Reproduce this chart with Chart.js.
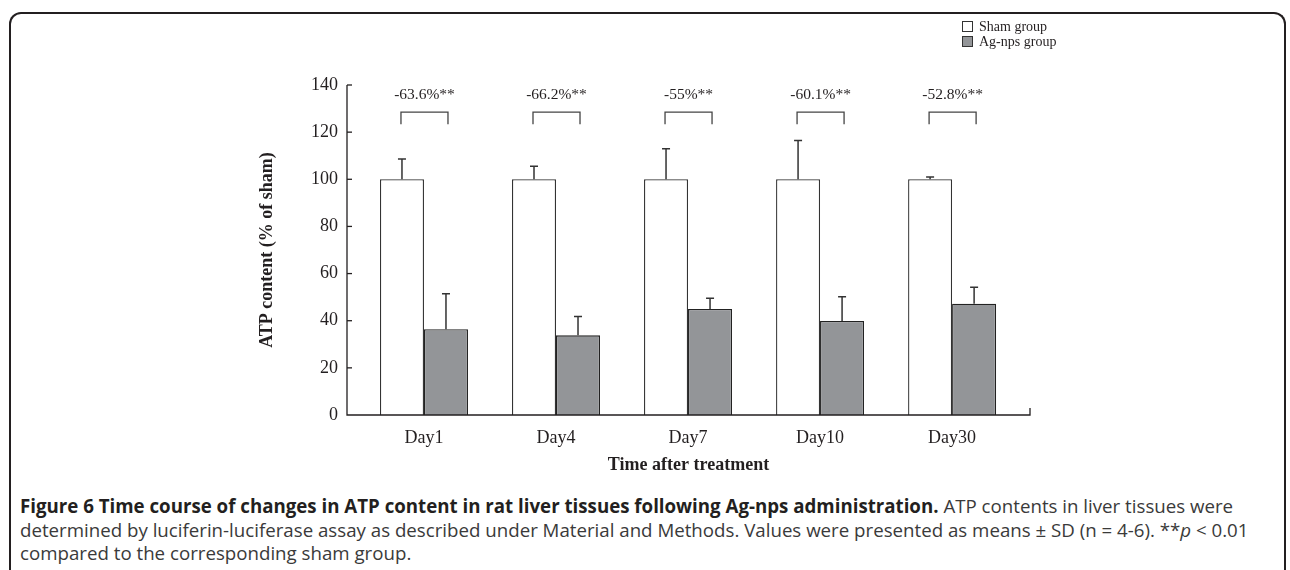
<!DOCTYPE html>
<html>
<head>
<meta charset="utf-8">
<script src="https://cdn.jsdelivr.net/npm/chart.js@4.4.1/dist/chart.umd.min.js"></script>
<style>
  html, body { margin: 0; padding: 0; background: #fff; }
  body { width: 1290px; height: 570px; position: relative; overflow: hidden; }
  #frame {
    position: absolute; left: 9px; top: 12px; width: 1277px; height: 600px;
    border: 2px solid #231f20; border-bottom: none; border-radius: 12px 12px 0 0;
    box-sizing: border-box;
  }
  #chartBox { position: absolute; left: 0; top: 0; width: 1290px; height: 490px; }
  #legend {
    position: absolute; left: 962px; top: 19px;
    font-family: "Liberation Serif", "DejaVu Serif", serif; font-size: 14px; color: #231f20;
    line-height: 15px;
  }
  #legend .row { display: flex; align-items: center; }
  #legend .box { width: 9px; height: 9px; border: 1px solid #333; margin-right: 6px; }
  #caption {
    position: absolute; left: 20px; top: 494px;
    font-family: "Open Sans", "Noto Sans", sans-serif; font-size: 18.7px; line-height: 23.5px;
    color: #3a3a3a; white-space: nowrap;
  }
  #caption b { color: #231f20; }
</style>
</head>
<body>
<div id="frame"></div>
<div id="chartBox"><canvas id="atpChart" width="1290" height="490"></canvas></div>
<div id="legend"></div>
<div id="caption">
  <b>Figure 6 Time course of changes in ATP content in rat liver tissues following Ag-nps administration.</b> ATP contents in liver tissues were<br>
  determined by luciferin-luciferase assay as described under Material and Methods. Values were presented as means ± SD (n = 4-6). **<i>p</i> &lt; 0.01<br>
  compared to the corresponding sham group.
</div>
<script>
// Data
const categories = ['Day1', 'Day4', 'Day7', 'Day10', 'Day30'];
const shamMean = [100, 100, 100, 100, 100];
const shamSD = [8.6, 5.5, 13, 16.5, 1];
const agMean = [36.4, 33.8, 45, 39.9, 47.2];
const agSD = [15, 8, 4.5, 10.3, 7];
const changeLabels = ['-63.6%**', '-66.2%**', '-55%**', '-60.1%**', '-52.8%**'];
const seriesNames = ['Sham group', 'Ag-nps group'];

const yMin = 0;
const yMax = 140;
const yStep = 20;

const INK = '#231f20';
const GREY = '#939598';

// Legend (top right)
const legendEl = document.getElementById('legend');
[['#ffffff', seriesNames[0]], [GREY, seriesNames[1]]].forEach(([fill, name]) => {
  const row = document.createElement('div');
  row.className = 'row';
  row.innerHTML = `<span class="box" style="background:${fill}"></span><span>${name}</span>`;
  legendEl.appendChild(row);
});

// Axes, error bars and significance brackets
const extrasPlugin = {
  id: 'extras',
  afterDatasetsDraw(chart) {
    const { ctx, chartArea: area, scales: { x, y } } = chart;
    ctx.save();
    ctx.strokeStyle = INK;
    ctx.lineWidth = 1.3;

    // axis lines
    ctx.beginPath();
    ctx.moveTo(area.left, area.top);
    ctx.lineTo(area.left, area.bottom);
    ctx.lineTo(area.right, area.bottom);
    ctx.lineTo(area.right, area.bottom - 7);
    ctx.stroke();

    // inward y ticks
    for (let v = yMin + yStep; v <= yMax; v += yStep) {
      const py = y.getPixelForValue(v);
      ctx.beginPath();
      ctx.moveTo(area.left, py);
      ctx.lineTo(area.left + 5, py);
      ctx.stroke();
    }

    // error bars (upper only)
    const drawErr = (meta, means, sds) => {
      meta.data.forEach((bar, i) => {
        const top = y.getPixelForValue(means[i] + sds[i]);
        const base = y.getPixelForValue(means[i]);
        ctx.beginPath();
        ctx.moveTo(bar.x, base);
        ctx.lineTo(bar.x, top);
        ctx.moveTo(bar.x - 4, top);
        ctx.lineTo(bar.x + 4, top);
        ctx.stroke();
      });
    };
    ctx.strokeStyle = '#333';
    ctx.lineWidth = 1.5;
    drawErr(chart.getDatasetMeta(0), shamMean, shamSD);
    drawErr(chart.getDatasetMeta(1), agMean, agSD);

    // brackets and percent labels
    const shamBars = chart.getDatasetMeta(0).data;
    const agBars = chart.getDatasetMeta(1).data;
    ctx.strokeStyle = '#444';
    ctx.lineWidth = 1.3;
    ctx.fillStyle = INK;
    ctx.font = '15.5px "Liberation Serif", serif';
    ctx.textAlign = 'center';
    ctx.textBaseline = 'middle';
    const bTop = y.getPixelForValue(128.5);
    const bLeg = y.getPixelForValue(123.4);
    const tY = y.getPixelForValue(135.8);
    categories.forEach((c, i) => {
      const x1 = shamBars[i].x - 1;
      const x2 = agBars[i].x + 2;
      ctx.beginPath();
      ctx.moveTo(x1, bLeg);
      ctx.lineTo(x1, bTop);
      ctx.lineTo(x2, bTop);
      ctx.lineTo(x2, bLeg);
      ctx.stroke();
      ctx.fillText(changeLabels[i], (x1 + x2) / 2, tY);
    });
    ctx.restore();
  }
};

const ctx = document.getElementById('atpChart').getContext('2d');
new Chart(ctx, {
  type: 'bar',
  data: {
    datasets: [
      {
        label: seriesNames[0],
        data: shamMean.map((v, i) => ({ x: i + 1, y: v })),
        backgroundColor: '#ffffff',
        borderColor: '#333',
        borderWidth: 1.3,
      },
      {
        label: seriesNames[1],
        data: agMean.map((v, i) => ({ x: i + 1, y: v })),
        backgroundColor: GREY,
        borderColor: '#222',
        borderWidth: 1.3,
      },
    ],
  },
  options: {
    responsive: false,
    animation: false,
    barPercentage: 1,
    categoryPercentage: 88 / 132,
    layout: { padding: { top: 85, right: 260, left: 0, bottom: 0 } },
    plugins: { legend: { display: false }, tooltip: { enabled: false } },
    scales: {
      x: {
        type: 'linear',
        offset: false,
        min: 0.417,
        max: 5.59,
        grid: { display: false, drawTicks: false, offset: false },
        border: { display: false },
        afterBuildTicks: s => { s.ticks = categories.map((c, i) => ({ value: i + 1 })); },
        afterFit: s => { s.height = 75; },
        ticks: {
          padding: 12,
          color: INK,
          font: { family: '"Liberation Serif", serif', size: 18 },
          callback: v => categories[v - 1],
        },
        title: {
          display: true,
          text: 'Time after treatment',
          color: INK,
          font: { family: '"Liberation Serif", serif', size: 18, weight: 'bold' },
          padding: { top: 0, bottom: 14 },
        },
      },
      y: {
        min: yMin,
        max: yMax,
        grid: { display: false, drawTicks: false },
        border: { display: false },
        afterFit: s => { s.width = 347; },
        ticks: {
          stepSize: yStep,
          padding: 9,
          color: INK,
          font: { family: '"Liberation Serif", serif', size: 18 },
        },
        title: {
          display: true,
          text: 'ATP content (% of sham)',
          color: INK,
          font: { family: '"Liberation Serif", serif', size: 18, weight: 'bold' },
          padding: { top: 257, bottom: 0 },
        },
      },
    },
  },
  plugins: [extrasPlugin],
});
</script>
</body>
</html>
